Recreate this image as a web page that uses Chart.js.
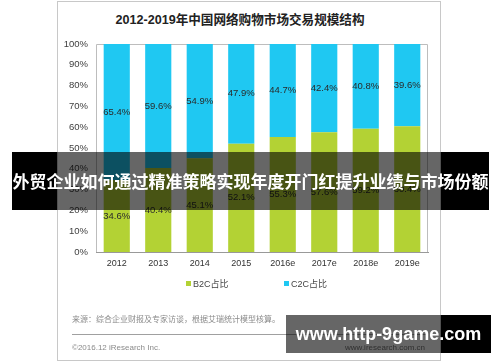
<!DOCTYPE html>
<html><head><meta charset="utf-8">
<script src="https://cdn.jsdelivr.net/npm/chart.js@4/dist/chart.umd.min.js"></script>
<style>
html,body{margin:0;padding:0;background:#fff;}
#wrap{position:relative;width:500px;height:362px;overflow:hidden;font-family:"Liberation Sans","Noto Sans CJK SC",sans-serif;}
.abs{position:absolute;}
#card{left:57px;top:1px;width:382px;height:358px;border:1px solid #c8c8c8;background:#fff;}
#title{left:57px;width:366px;top:9px;text-align:center;font-weight:bold;font-size:12.6px;color:#222;white-space:nowrap;}
.lg{font-size:9px;color:#444;white-space:nowrap;line-height:10px;}
.sw{display:inline-block;width:5px;height:5px;margin-right:2px;vertical-align:1px;}
.src{font-size:8px;color:#8a8a8a;white-space:nowrap;line-height:10px;}
</style></head>
<body>
<div id="wrap">
  <div id="card" class="abs"></div>
  <div id="title" class="abs">2012-2019年中国网络购物市场交易规模结构</div>
  <canvas id="c" class="abs" width="500" height="362" style="left:0;top:0;width:500px;height:362px;"></canvas>
  <div id="lg1" class="abs lg" style="left:186px;top:279px;"></div>
  <div id="lg2" class="abs lg" style="left:284px;top:279px;"></div>
  <div class="abs src" style="left:72px;top:315px;">来源：综合企业财报及专家访谈，根据艾瑞统计模型核算。</div>
  <div class="abs" style="left:72px;top:334px;width:354px;height:1px;background:#a0a0a0;"></div>
  <div class="abs src" style="left:72px;top:343px;">©2016.12 iResearch Inc.</div>
  <div class="abs src" style="left:345px;top:343px;color:#777;">www.iresearch.com.cn</div>
  <!-- banner -->
  <div class="abs" style="left:12px;top:152px;width:45px;height:58px;background:#000;"></div>
  <div class="abs" style="left:57px;top:152px;width:384px;height:58px;background:rgba(0,0,0,0.6);"></div>
  <div class="abs" style="left:441px;top:152px;width:48px;height:58px;background:#000;"></div>
  <div class="abs" style="left:12px;top:152px;width:477px;height:58px;line-height:58px;text-align:center;color:#fff;font-weight:bold;font-size:17px;font-family:'Noto Sans CJK SC',sans-serif;white-space:nowrap;">外贸企业如何通过精准策略实现年度开门红提升业绩与市场份额</div>
  <!-- watermark -->
  <div class="abs" style="left:286px;top:315px;width:155px;height:38px;background:rgba(0,0,0,0.6);"></div>
  <div class="abs" style="left:441px;top:315px;width:50px;height:38px;background:#000;"></div>
  <div class="abs" style="left:286px;top:315px;width:205px;height:38px;line-height:38px;text-align:center;color:#fff;font-weight:bold;font-size:18px;font-family:'Liberation Sans',sans-serif;white-space:nowrap;">www.http-9game.com</div>
</div>
<script>
const categories = ["2012","2013","2014","2015","2016e","2017e","2018e","2019e"];
const seriesNames = ["B2C占比","C2C占比"];
const b2cValues = [34.6,40.4,45.1,52.1,55.3,57.6,59.2,60.4];
const c2cValues = [65.4,59.6,54.9,47.9,44.7,42.4,40.8,39.6];
const yTicks = [0,10,20,30,40,50,60,70,80,90,100];
const colors = ["#b3d234","#1fc8f2"];

document.getElementById('lg1').innerHTML = '<span class="sw" style="background:'+colors[0]+'"></span>'+seriesNames[0];
document.getElementById('lg2').innerHTML = '<span class="sw" style="background:'+colors[1]+'"></span>'+seriesNames[1];

const labelPlugin = {
  id:'barLabels',
  afterDatasetsDraw(chart){
    const ctx = chart.ctx;
    ctx.save();
    ctx.font = '9.5px "Liberation Sans", sans-serif';
    ctx.fillStyle = '#2a2a2a';
    ctx.textAlign = 'center';
    ctx.textBaseline = 'middle';
    chart.data.datasets.forEach((ds,i)=>{
      const meta = chart.getDatasetMeta(i);
      meta.data.forEach((el,j)=>{
        const y = (el.y + el.base)/2;
        ctx.fillText(ds.data[j].toFixed(1)+'%', el.x, y);
      });
    });
    ctx.restore();
  }
};
const framePlugin = {
  id:'frame',
  beforeDatasetsDraw(chart){
    const a = chart.chartArea, ctx = chart.ctx;
    ctx.save();
    ctx.strokeStyle = '#bdbdbd';
    ctx.lineWidth = 1;
    ctx.beginPath();
    ctx.moveTo(a.left+0.5, a.bottom);
    ctx.lineTo(a.left+0.5, a.top+0.5);
    ctx.lineTo(a.right-0.5, a.top+0.5);
    ctx.lineTo(a.right-0.5, a.bottom);
    ctx.stroke();
    ctx.restore();
  }
};

new Chart(document.getElementById('c'), {
  type:'bar',
  data:{
    labels:categories,
    datasets:[
      {label:seriesNames[0], data:b2cValues, backgroundColor:colors[0], borderWidth:0, categoryPercentage:1, barPercentage:0.63},
      {label:seriesNames[1], data:c2cValues, backgroundColor:colors[1], borderWidth:0, categoryPercentage:1, barPercentage:0.63}
    ]
  },
  options:{
    responsive:false,
    animation:false,
    devicePixelRatio:1,
    layout:{padding:{left:0,right:72,top:44,bottom:90}},
    plugins:{legend:{display:false},title:{display:false},tooltip:{enabled:false}},
    scales:{
      x:{stacked:true,
         grid:{display:false,drawTicks:false},
         border:{display:true,color:'#999',width:1},
         ticks:{color:'#333',font:{size:9,family:'"Liberation Sans", sans-serif'},padding:6,maxRotation:0},
         afterFit(s){s.height=20;}},
      y:{stacked:true,min:0,max:100,
         afterBuildTicks(s){s.ticks = yTicks.map(v=>({value:v}));},
         grid:{display:false,drawTicks:false},
         border:{display:false},
         ticks:{color:'#404040',font:{size:9.5,family:'"Liberation Sans", sans-serif'},padding:8,callback:v=>v+'%'},
         afterFit(s){s.width=96;}}
    }
  },
  plugins:[framePlugin,labelPlugin]
});
</script>
</body></html>
